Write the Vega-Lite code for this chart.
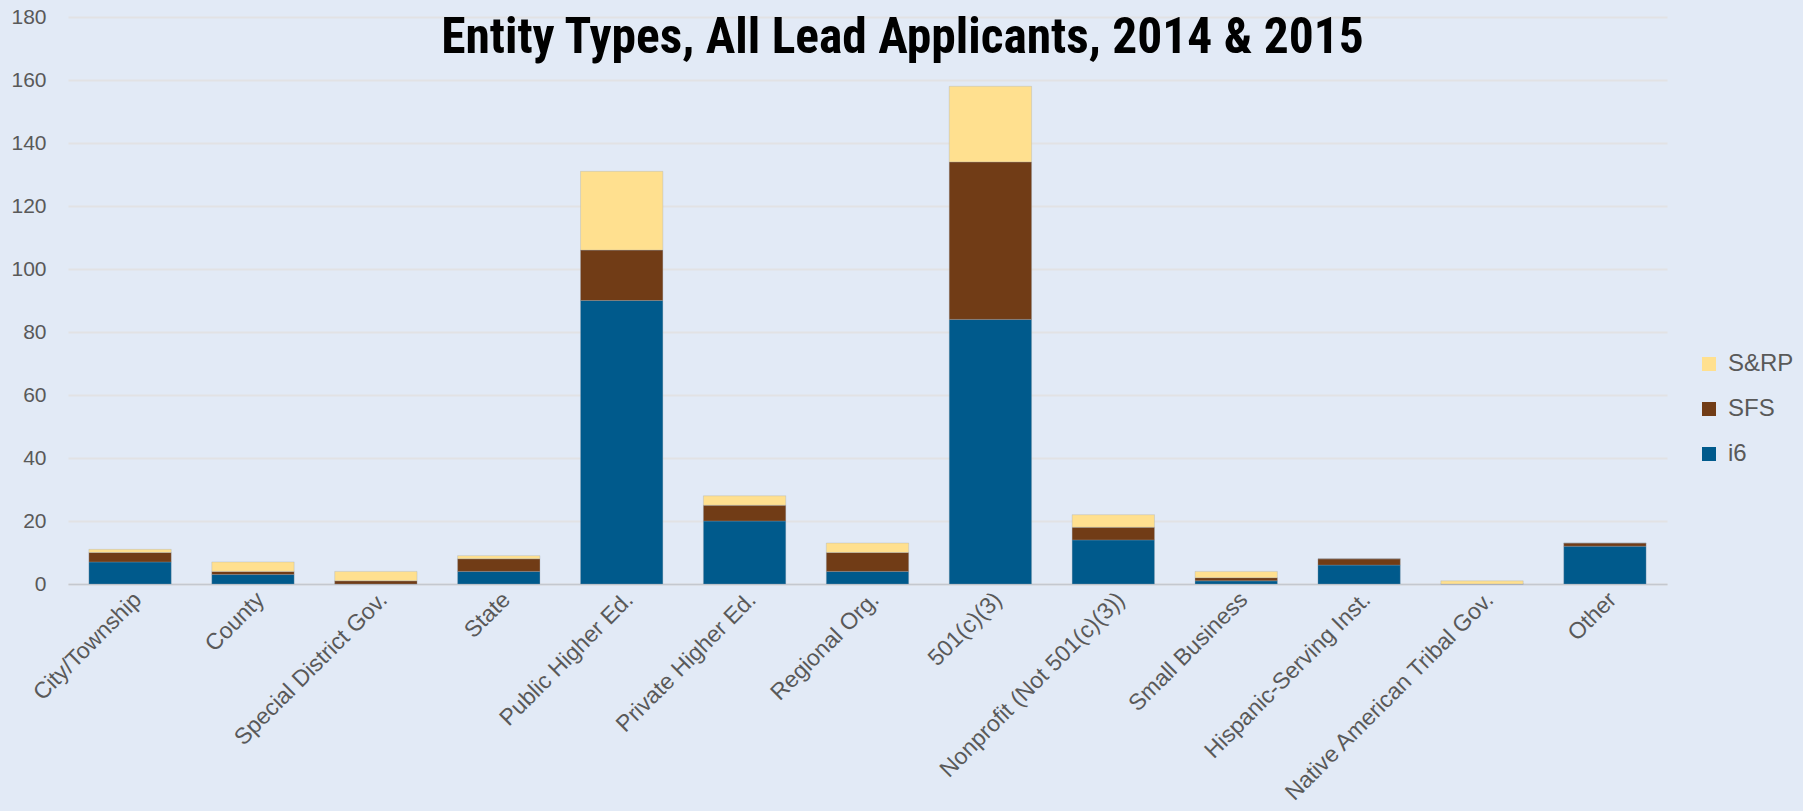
{
  "$schema": "https://vega.github.io/schema/vega-lite/v6.json",
  "width": 1803,
  "height": 811,
  "autosize": {"type": "fit", "contains": "padding"},
  "padding": {"left": 10, "top": 6, "right": 136, "bottom": 5},
  "background": "#e2eaf6",
  "title": {
    "text": "Entity Types, All Lead Applicants, 2014 & 2015",
    "font": "Roboto Condensed, DejaVu Sans Condensed, Liberation Sans",
    "fontSize": 49.5,
    "fontWeight": "bold",
    "color": "#000000",
    "anchor": "middle",
    "frame": "group",
    "baseline": "alphabetic",
    "orient": "bottom",
    "offset": -753,
    "dx": 35
  },
  "config": {
    "view": {"stroke": null},
    "font": "Liberation Sans"
  },
  "data": {
    "values": [
      {"entity": "City/Township", "series": "i6", "value": 7},
      {"entity": "City/Township", "series": "SFS", "value": 3},
      {"entity": "City/Township", "series": "S&RP", "value": 1},
      {"entity": "County", "series": "i6", "value": 3},
      {"entity": "County", "series": "SFS", "value": 1},
      {"entity": "County", "series": "S&RP", "value": 3},
      {"entity": "Special District Gov.", "series": "i6", "value": 0},
      {"entity": "Special District Gov.", "series": "SFS", "value": 1},
      {"entity": "Special District Gov.", "series": "S&RP", "value": 3},
      {"entity": "State", "series": "i6", "value": 4},
      {"entity": "State", "series": "SFS", "value": 4},
      {"entity": "State", "series": "S&RP", "value": 1},
      {"entity": "Public Higher Ed.", "series": "i6", "value": 90},
      {"entity": "Public Higher Ed.", "series": "SFS", "value": 16},
      {"entity": "Public Higher Ed.", "series": "S&RP", "value": 25},
      {"entity": "Private Higher Ed.", "series": "i6", "value": 20},
      {"entity": "Private Higher Ed.", "series": "SFS", "value": 5},
      {"entity": "Private Higher Ed.", "series": "S&RP", "value": 3},
      {"entity": "Regional Org.", "series": "i6", "value": 4},
      {"entity": "Regional Org.", "series": "SFS", "value": 6},
      {"entity": "Regional Org.", "series": "S&RP", "value": 3},
      {"entity": "501(c)(3)", "series": "i6", "value": 84},
      {"entity": "501(c)(3)", "series": "SFS", "value": 50},
      {"entity": "501(c)(3)", "series": "S&RP", "value": 24},
      {"entity": "Nonprofit (Not 501(c)(3))", "series": "i6", "value": 14},
      {"entity": "Nonprofit (Not 501(c)(3))", "series": "SFS", "value": 4},
      {"entity": "Nonprofit (Not 501(c)(3))", "series": "S&RP", "value": 4},
      {"entity": "Small Business", "series": "i6", "value": 1},
      {"entity": "Small Business", "series": "SFS", "value": 1},
      {"entity": "Small Business", "series": "S&RP", "value": 2},
      {"entity": "Hispanic-Serving Inst.", "series": "i6", "value": 6},
      {"entity": "Hispanic-Serving Inst.", "series": "SFS", "value": 2},
      {"entity": "Hispanic-Serving Inst.", "series": "S&RP", "value": 0},
      {"entity": "Native American Tribal Gov.", "series": "i6", "value": 0},
      {"entity": "Native American Tribal Gov.", "series": "SFS", "value": 0},
      {"entity": "Native American Tribal Gov.", "series": "S&RP", "value": 1},
      {"entity": "Other", "series": "i6", "value": 12},
      {"entity": "Other", "series": "SFS", "value": 1},
      {"entity": "Other", "series": "S&RP", "value": 0}
    ]
  },
  "mark": {"type": "bar", "stroke": "#9aa3ad", "strokeWidth": 0.5, "strokeOpacity": 0.6},
  "encoding": {
    "x": {
      "field": "entity",
      "type": "nominal",
      "sort": null,
      "title": null,
      "scale": {"paddingInner": 0.33, "paddingOuter": 0.17},
      "axis": {
        "labelAngle": -45,
        "labelAlign": "right",
        "labelBaseline": "top",
        "labelFontSize": 23,
        "labelColor": "#595959",
        "labelPadding": 4,
        "labelLimit": 0,
        "ticks": false,
        "domainColor": "#c4c8cf",
        "domainWidth": 1.5
      }
    },
    "y": {
      "field": "value",
      "type": "quantitative",
      "stack": "zero",
      "title": null,
      "scale": {"domain": [0, 180], "nice": false},
      "axis": {
        "values": [0, 20, 40, 60, 80, 100, 120, 140, 160, 180],
        "labelFontSize": 21,
        "labelColor": "#595959",
        "labelPadding": 22,
        "ticks": false,
        "domain": false,
        "gridColor": "#e2e2e4",
        "gridWidth": 2
      }
    },
    "color": {
      "field": "series",
      "type": "nominal",
      "scale": {
        "domain": ["S&RP", "SFS", "i6"],
        "range": ["#FFE08F", "#713C16", "#005A8C"]
      },
      "legend": {
        "title": null,
        "symbolType": "square",
        "symbolSize": 196,
        "symbolStrokeWidth": 0,
        "labelFontSize": 24,
        "labelColor": "#595959",
        "labelOffset": 7,
        "rowPadding": 21,
        "orient": "none",
        "legendX": 1629,
        "legendY": 335,
        "padding": 0
      }
    },
    "order": {"field": "series", "sort": "descending"}
  }
}
